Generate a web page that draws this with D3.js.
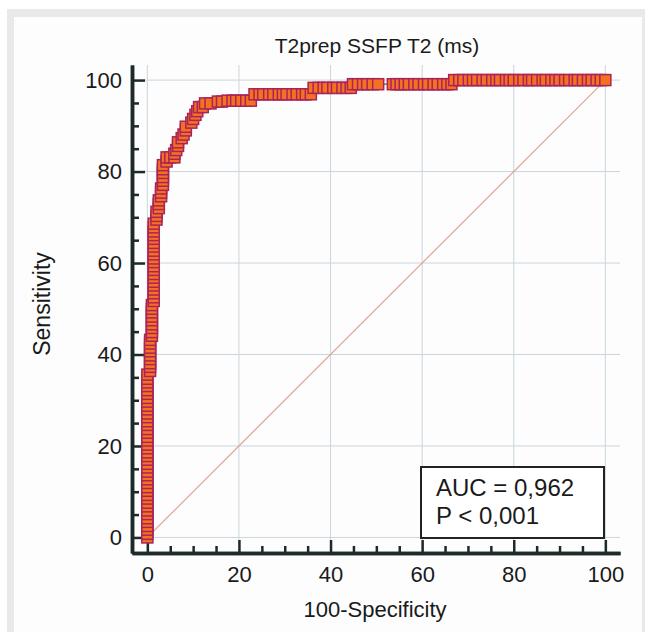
<!DOCTYPE html>
<html>
<head>
<meta charset="utf-8">
<script src="https://cdn.jsdelivr.net/npm/d3@7"></script>
<style>
  body { margin: 0; background: #fff; }
  text { font-family: "Liberation Sans", Arial, sans-serif; fill: #1a1a1a; }
</style>
</head>
<body>
<svg id="chart" width="645" height="632"></svg>
<script>
const width = 645,
  height = 632;

// ROC points (100-Specificity, Sensitivity)
const fpr = [
  0, 0, 0, 0, 0, 0, 0, 0, 0, 0, 0, 0, 0, 0, 0, 0, 0, 0, 0, 0, 0, 0,
  0, 0, 0, 0, 0, 0, 0, 0, 0, 0, 0, 0, 0, 0, 0, 0, 0, 0, 0, 0, 0,
  0.6, 0.6, 0.6, 0.6, 0.6, 0.6, 0.6, 0.6, 0.6,
  1.0, 1.0, 1.0, 1.0, 1.0, 1.0, 1.0, 1.0, 1.0,
  1.4, 1.4, 1.4, 1.4, 1.4, 1.4, 1.4, 1.4, 1.4, 1.4, 1.4, 1.4, 1.4, 1.4,
  1.4, 1.4, 1.4, 1.4, 1.4, 1.4, 1.4,
  2.0, 2.0, 2.0, 2.5, 2.5, 2.5, 3.0, 3.0, 3.0,
  3.4, 3.4, 3.4, 3.4, 3.4, 3.4, 4.2, 4.2, 5.0,
  5.9, 5.9, 6.3, 6.7, 6.7, 7.5, 7.9, 8.4, 8.4, 9.6, 10.0, 10.5, 10.9,
  11.3, 12.1, 12.6, 13.8,
  15.4, 16.3, 17.5, 18.6, 19.4, 20.5, 21.6, 22.6,
  23.4, 24.5, 25.3, 26.6, 27.5, 28.7, 29.6, 30.4, 31.7, 32.6, 33.8, 34.6, 35.7,
  36.3, 37.4, 38.5, 39.3, 40.6, 41.4, 42.6, 43.5, 44.4,
  44.9, 46.0, 47.1, 48.0, 49.2, 50.4, 53.6, 54.4, 55.3, 56.2, 57.1, 58.3,
  59.2, 60.4, 61.3, 62.5, 63.4, 64.6, 65.5, 66.4,
  67.0, 68.1, 69.0, 70.2, 71.1, 72.0, 73.2, 74.1, 75.3, 76.2, 77.0, 78.3,
  79.1, 80.0, 81.2, 82.1, 83.3, 84.0, 85.1, 86.3, 87.0, 88.2, 89.1, 90.0,
  91.2, 92.1, 93.3, 94.0, 95.1, 96.2, 97.0, 98.1, 99.0, 100
];
const tpr = [
  0, 0.8, 1.7, 2.5, 3.4, 4.2, 5.1, 5.9, 6.8, 7.6, 8.5, 9.3, 10.2, 11.0,
  11.9, 12.7, 13.6, 14.4, 15.3, 16.1, 17.0, 17.8,
  18.6, 19.5, 20.3, 21.2, 22.0, 22.9, 23.7, 24.6, 25.4, 26.3, 27.1, 28.0,
  28.8, 29.7, 30.5, 31.4, 32.2, 33.1, 33.9, 34.7, 35.6,
  36.4, 37.3, 38.1, 39.0, 39.8, 40.7, 41.5, 42.4, 43.2,
  44.1, 44.9, 45.8, 46.6, 47.5, 48.3, 49.2, 50.0, 50.8,
  51.7, 52.5, 53.4, 54.2, 55.1, 55.9, 56.8, 57.6, 58.5, 59.3, 60.2, 61.0,
  61.9, 62.7, 63.6, 64.4, 65.3, 66.1, 66.9, 67.8, 68.6,
  69.5, 70.3, 71.2, 72.0, 72.9, 73.7, 74.6, 75.4, 76.3,
  77.1, 78.0, 78.8, 79.7, 80.5, 81.4, 82.2, 83.1, 83.1,
  83.1, 83.9, 84.7, 85.6, 86.4, 87.3, 88.1, 89.0, 89.8, 90.7, 91.5, 92.4, 93.2,
  94.1, 94.1, 94.9, 94.9,
  95.3, 95.3, 95.5, 95.5, 95.5, 95.5, 95.5, 95.5,
  96.9, 96.9, 96.9, 96.9, 96.9, 96.9, 96.9, 96.9, 96.9, 96.9, 96.9, 96.9, 96.9,
  98.3, 98.3, 98.3, 98.3, 98.3, 98.3, 98.3, 98.3, 98.3,
  99.1, 99.1, 99.1, 99.1, 99.1, 99.1, 99.1, 99.1, 99.1, 99.1, 99.1, 99.1,
  99.1, 99.1, 99.1, 99.1, 99.1, 99.1, 99.1, 99.1,
  100, 100, 100, 100, 100, 100, 100, 100, 100, 100, 100, 100,
  100, 100, 100, 100, 100, 100, 100, 100, 100, 100, 100, 100,
  100, 100, 100, 100, 100, 100, 100, 100, 100, 100
];
const majorTicks = [0, 20, 40, 60, 80, 100];
const minorTicks = [5, 10, 15, 25, 30, 35, 45, 50, 55, 65, 70, 75, 85, 90, 95];
const legendLines = ["AUC = 0,962", "P < 0,001"];

const svg = d3.select("#chart");

// gray frame round the figure
svg.append("rect").attr("x", 7).attr("y", 9).attr("width", 645).attr("height", 640).attr("fill", "#e9e9e9");
svg.append("rect").attr("x", 14).attr("y", 17).attr("width", 628).attr("height", 630).attr("fill", "#fdfdfd");

const x = d3.scaleLinear().domain([-3.35, 103.2]).range([132, 620]);
const y = d3.scaleLinear().domain([-3.4, 103.3]).range([553, 65]);

// grid
const grid = svg.append("g").attr("stroke", "#c9d6de").attr("stroke-width", 1);
grid.selectAll(".gx").data(majorTicks).join("line")
  .attr("x1", d => x(d)).attr("x2", d => x(d))
  .attr("y1", y.range()[1]).attr("y2", y.range()[0]);
grid.selectAll(".gy").data(majorTicks).join("line")
  .attr("x1", x.range()[0]).attr("x2", x.range()[1])
  .attr("y1", d => y(d)).attr("y2", d => y(d));

// reference diagonal
svg.append("line")
  .attr("x1", x(0)).attr("y1", y(0)).attr("x2", x(100)).attr("y2", y(100))
  .attr("stroke", "#dfa494").attr("stroke-width", 1.2);

// axes
function styleAxis(g) {
  g.select(".domain").attr("stroke", "#1d2a2a").attr("stroke-width", 3.5);
  g.selectAll(".tick line").attr("stroke", "#1d2a2a").attr("stroke-width", 2.5);
  g.selectAll(".tick text").attr("font-size", 22).attr("fill", "#1a1a1a")
    .attr("font-family", "Liberation Sans, Arial, sans-serif");
}

svg.append("g").attr("transform", "translate(0,553)")
  .call(d3.axisBottom(x).tickValues(minorTicks).tickSize(-7).tickFormat("").tickSizeOuter(0))
  .call(styleAxis);
svg.append("g").attr("transform", "translate(0,553)")
  .call(d3.axisBottom(x).tickValues(majorTicks).tickSize(-13).tickPadding(13).tickSizeOuter(0))
  .call(styleAxis);
svg.append("g").attr("transform", "translate(132,0)")
  .call(d3.axisLeft(y).tickValues(minorTicks).tickSize(-7).tickFormat("").tickSizeOuter(0))
  .call(styleAxis);
svg.append("g").attr("transform", "translate(132,0)")
  .call(d3.axisLeft(y).tickValues(majorTicks).tickSize(-13).tickPadding(10).tickSizeOuter(0))
  .call(styleAxis);

// ROC curve
const pts = fpr.map((f, i) => [f, tpr[i]]);
svg.append("path")
  .datum(pts)
  .attr("fill", "none")
  .attr("stroke", "#2f5cb8")
  .attr("stroke-width", 1.2)
  .attr("d", d3.line().x(d => x(d[0])).y(d => y(d[1])));

const s = 11;
svg.append("g").selectAll("rect").data(pts).join("rect")
  .attr("x", d => x(d[0]) - s / 2)
  .attr("y", d => y(d[1]) - s / 2)
  .attr("width", s).attr("height", s)
  .attr("fill", "#f6711f")
  .attr("stroke", "#a8245a")
  .attr("stroke-width", 1.5);

// legend box
svg.append("rect")
  .attr("x", 421).attr("y", 467).attr("width", 183).attr("height", 71)
  .attr("fill", "#fff").attr("stroke", "#222").attr("stroke-width", 2);
svg.selectAll(".leg").data(legendLines).join("text")
  .attr("x", 436).attr("y", (d, i) => 496 + i * 28)
  .attr("font-size", 24).text(d => d);

// titles
svg.append("text").attr("x", 377).attr("y", 53).attr("text-anchor", "middle")
  .attr("font-size", 21).text("T2prep SSFP T2 (ms)");
svg.append("text").attr("x", 375).attr("y", 617).attr("text-anchor", "middle")
  .attr("font-size", 22).text("100-Specificity");
svg.append("text").attr("transform", "translate(50,304) rotate(-90)").attr("text-anchor", "middle")
  .attr("font-size", 23).text("Sensitivity");
</script>
</body>
</html>
